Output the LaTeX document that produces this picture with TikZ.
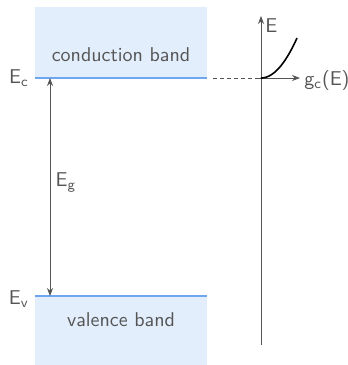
\documentclass[tikz,border=0pt]{standalone}
\usetikzlibrary{arrows.meta}
\renewcommand{\familydefault}{\sfdefault}
\definecolor{bandfill}{HTML}{E3EEFC}
\definecolor{bandline}{HTML}{6FA6F0}
\definecolor{txt}{HTML}{555555}
\definecolor{axis}{HTML}{555555}
\tikzset{
  band/.style={fill=bandfill, draw=none},
  edge/.style={draw=bandline, line width=1pt},
  lbl/.style={text=txt, font=\sffamily, inner sep=1pt},
  ax/.style={draw=axis, line width=0.4pt, -{Stealth[length=4pt,width=3pt]}},
}
\begin{document}
\begin{tikzpicture}[x=0.5pt,y=-0.5pt]
\useasboundingbox (0,0) rectangle (348,365);
% bands
\fill[band] (35,7) rectangle (207,78);
\fill[band] (35,296) rectangle (207,365);
\coordinate (ecL) at (35,78);
\coordinate (ecR) at (207,78);
\coordinate (evL) at (35,296);
\coordinate (evR) at (207,296);
\draw[edge] (ecL) -- (ecR);
\draw[edge] (evL) -- (evR);
\node[lbl, font=\sffamily\fontsize{10}{12}\selectfont] (cb) at (121,55) {conduction band};
\node[lbl, font=\sffamily\fontsize{10}{12}\selectfont] (vb) at (121,320) {valence band};
\node[lbl, font=\sffamily\fontsize{10}{12}\selectfont] (Ec) at (19,78) {E$_\mathsf{c}$};
\node[lbl, font=\sffamily\fontsize{10}{12}\selectfont] (Ev) at (19,299) {E$_\mathsf{v}$};
% gap arrow
\coordinate (gt) at (50,78);
\coordinate (gb) at (50,296);
\draw[axis, line width=0.4pt, {Stealth[length=4pt,width=3pt]}-{Stealth[length=4pt,width=3pt]}] (gt) -- (gb);
\node[lbl, font=\sffamily\fontsize{10}{12}\selectfont] (Eg) at (66,182) {E$_\mathsf{g}$};
% DOS axes
\coordinate (o) at (261,78);
\coordinate (ybot) at (261,345);
\coordinate (ytop) at (261,16);
\coordinate (xl) at (258,78);
\coordinate (xr) at (300,78);
\draw[ax] (ybot) -- (ytop);
\draw[ax] (xl) -- (xr);
\node[lbl, font=\sffamily\fontsize{10}{12}\selectfont, anchor=west] (E) at (263,26) {E};
\node[lbl, font=\sffamily\fontsize{10}{12}\selectfont, anchor=west] (gc) at (302,80) {g$_\mathsf{c}$(E)};
\coordinate (dl) at (213,78);
\draw[axis, dashed, dash pattern=on 2pt off 1.5pt, line width=0.5pt] (dl) -- (o);
\draw[black, line width=0.8pt, domain=0:36, samples=40] plot ({261+\x},{78-40*(\x/36)^2});
\end{tikzpicture}
\end{document}
